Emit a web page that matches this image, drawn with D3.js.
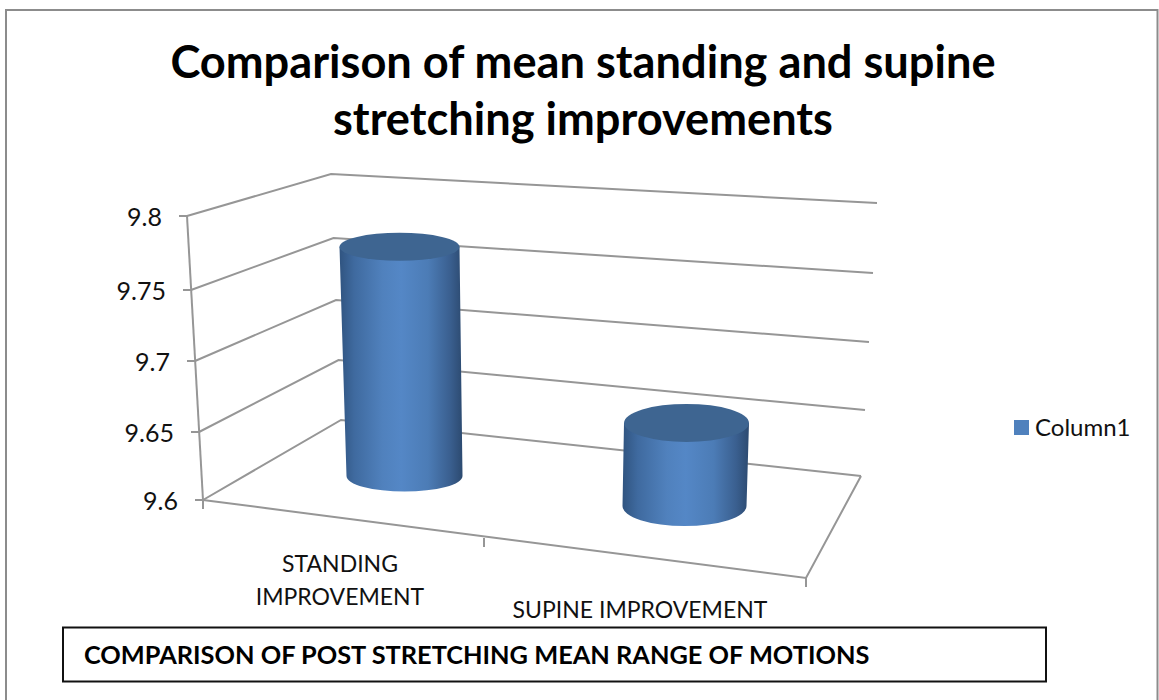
<!DOCTYPE html>
<html>
<head>
<meta charset="utf-8">
<script src="https://cdn.jsdelivr.net/npm/d3@7"></script>
<style>
  html, body { margin: 0; padding: 0; background: #fff; }
  text { font-family: Lato, "Open Sans", sans-serif; fill: #111; }
</style>
</head>
<body>
<svg id="chart" width="1159" height="700"></svg>
<script>
var categories = [["STANDING", "IMPROVEMENT"], ["SUPINE IMPROVEMENT"]];
var values = [9.773, 9.667];
var yTicks = [9.6, 9.65, 9.7, 9.75, 9.8];
var yTickLabels = ["9.6", "9.65", "9.7", "9.75", "9.8"];
var titleLines = ["Comparison of mean standing and supine", "stretching improvements"];
var seriesName = "Column1";
var captionText = "COMPARISON OF POST STRETCHING MEAN RANGE OF MOTIONS";

var svg = d3.select("#chart");
var domainY = [9.6, 9.8];

// the three upright edges of the 3D box, a little uneven because of the perspective
var frontX = d3.scaleLinear().domain(domainY).range([203, 187]);
var frontY = d3.scaleLinear().domain(yTicks).range([500, 432, 361, 290, 216]);
var cornerX = d3.scaleLinear().domain(domainY).range([341, 331]);
var cornerY = d3.scaleLinear().domain(yTicks).range([420, 360, 300, 238, 174]);
var rightX = d3.scaleLinear().domain(domainY).range([861, 877]);
var rightY = d3.scaleLinear().domain(yTicks).range([476, 410, 342, 273, 203]);

// page frame
svg.append("rect")
  .attr("x", 6).attr("y", 10)
  .attr("width", 1151.5).attr("height", 700)
  .attr("fill", "none").attr("stroke", "#8c8c8c").attr("stroke-width", 2);

// title
svg.append("g").selectAll("text")
  .data(titleLines)
  .enter()
  .append("text")
  .attr("x", 583)
  .attr("y", function (d, i) { return 78 + i * 57; })
  .attr("text-anchor", "middle")
  .style("font-size", "45.2px")
  .style("font-weight", 700)
  .style("fill", "#000")
  .text(function (d) { return d; });

var gridColor = "#969696";
var grid = svg.append("g").attr("fill", "none").attr("stroke", gridColor).attr("stroke-width", 2);

// gridlines on the two walls
grid.selectAll("path.wall")
  .data(yTicks)
  .enter()
  .append("path")
  .attr("class", "wall")
  .attr("d", function (d) {
    return d3.line()([
      [frontX(d), frontY(d)],
      [cornerX(d), cornerY(d)],
      [rightX(d), rightY(d)]
    ]);
  });

// left axis line
grid.append("path").attr("d", d3.line()([
  [frontX(9.6), frontY(9.6)],
  [frontX(9.8), frontY(9.8)]
]));

// y ticks
grid.selectAll("path.tick")
  .data(yTicks)
  .enter()
  .append("path")
  .attr("class", "tick")
  .attr("d", function (d) {
    return d3.line()([[frontX(d) - 8, frontY(d)], [frontX(d), frontY(d)]]);
  });

// floor front edge and side edge
var floorFront = [frontX(9.6), frontY(9.6)];
var floorRight = [806, 578];
grid.append("path").attr("d", d3.line()([
  floorFront,
  floorRight,
  [rightX(9.6), rightY(9.6)]
]));

// x ticks along the floor front edge
var xEdgeX = d3.scaleLinear().domain([0, 1, 2]).range([floorFront[0], 484, floorRight[0]]);
var xEdgeY = d3.scaleLinear().domain([0, 1, 2]).range([floorFront[1], 538, floorRight[1]]);
grid.selectAll("path.xtick")
  .data(d3.range(categories.length + 1))
  .enter()
  .append("path")
  .attr("class", "xtick")
  .attr("d", function (d) {
    return d3.line()([[xEdgeX(d), xEdgeY(d)], [xEdgeX(d), xEdgeY(d) + 9]]);
  });

// y tick labels
svg.append("g").selectAll("text")
  .data(yTicks)
  .enter()
  .append("text")
  .attr("x", function (d) { return frontX(d) - 25; })
  .attr("y", function (d) { return frontY(d) + 10; })
  .attr("text-anchor", "end")
  .style("font-size", "25px")
  .text(function (d, i) { return yTickLabels[i]; });

// cylinders
var defs = svg.append("defs");
var grad = defs.append("linearGradient").attr("id", "cyl");
[["0%", "#305480"], ["12%", "#3f6a9f"], ["35%", "#5081bd"], ["50%", "#5487c6"],
 ["72%", "#4c7cb6"], ["90%", "#3a5f8f"], ["100%", "#2c4a70"]].forEach(function (s) {
  grad.append("stop").attr("offset", s[0]).attr("stop-color", s[1]);
});

// one per category, bottom ellipse sits on the floor
var cylBox = [
  { xb: 404.5, yb: 476, rb: 58, ryb: 15.5, xt: 399.5, rt: 60, ryt: 14, h: 265 },
  { xb: 684.5, yb: 506, rb: 62, ryb: 20, xt: 686.5, rt: 62.5, ryt: 19, h: 248 }
];
var heightScale = d3.scaleLinear().domain(domainY);

var cyl = svg.append("g").selectAll("g")
  .data(values)
  .enter()
  .append("g");

cyl.append("path")
  .attr("fill", "url(#cyl)")
  .attr("d", function (d, i) {
    var b = cylBox[i];
    var topY = b.yb - heightScale.range([0, b.h])(d);
    return "M" + (b.xt - b.rt) + "," + topY +
      "L" + (b.xb - b.rb) + "," + b.yb +
      "A" + b.rb + "," + b.ryb + " 0 0 0 " + (b.xb + b.rb) + "," + b.yb +
      "L" + (b.xt + b.rt) + "," + topY + "Z";
  });

cyl.append("ellipse")
  .attr("fill", "#3e6591")
  .attr("cx", function (d, i) { return cylBox[i].xt; })
  .attr("cy", function (d, i) { return cylBox[i].yb - heightScale.range([0, cylBox[i].h])(d); })
  .attr("rx", function (d, i) { return cylBox[i].rt; })
  .attr("ry", function (d, i) { return cylBox[i].ryt; });

// category labels
var catPos = [[340, 572], [640, 618]];
svg.append("g").selectAll("text")
  .data(categories)
  .enter()
  .append("text")
  .attr("text-anchor", "middle")
  .style("font-size", "23px")
  .each(function (d, i) {
    d3.select(this).selectAll("tspan")
      .data(d)
      .enter()
      .append("tspan")
      .attr("x", catPos[i][0])
      .attr("y", function (t, j) { return catPos[i][1] + j * 33; })
      .text(function (t) { return t; });
  });

// legend
svg.append("rect")
  .attr("x", 1014).attr("y", 420)
  .attr("width", 15).attr("height", 15)
  .attr("fill", "#4f81bd");
svg.append("text")
  .attr("x", 1035).attr("y", 436)
  .style("font-size", "24px")
  .text(seriesName);

// caption box under the chart
svg.append("rect")
  .attr("x", 63).attr("y", 627.5)
  .attr("width", 983).attr("height", 54)
  .attr("fill", "#fff").attr("stroke", "#111").attr("stroke-width", 2);
svg.append("text")
  .attr("x", 84).attr("y", 664)
  .style("font-size", "25.35px")
  .style("font-weight", 700)
  .style("fill", "#000")
  .text(captionText);
</script>
</body>
</html>
